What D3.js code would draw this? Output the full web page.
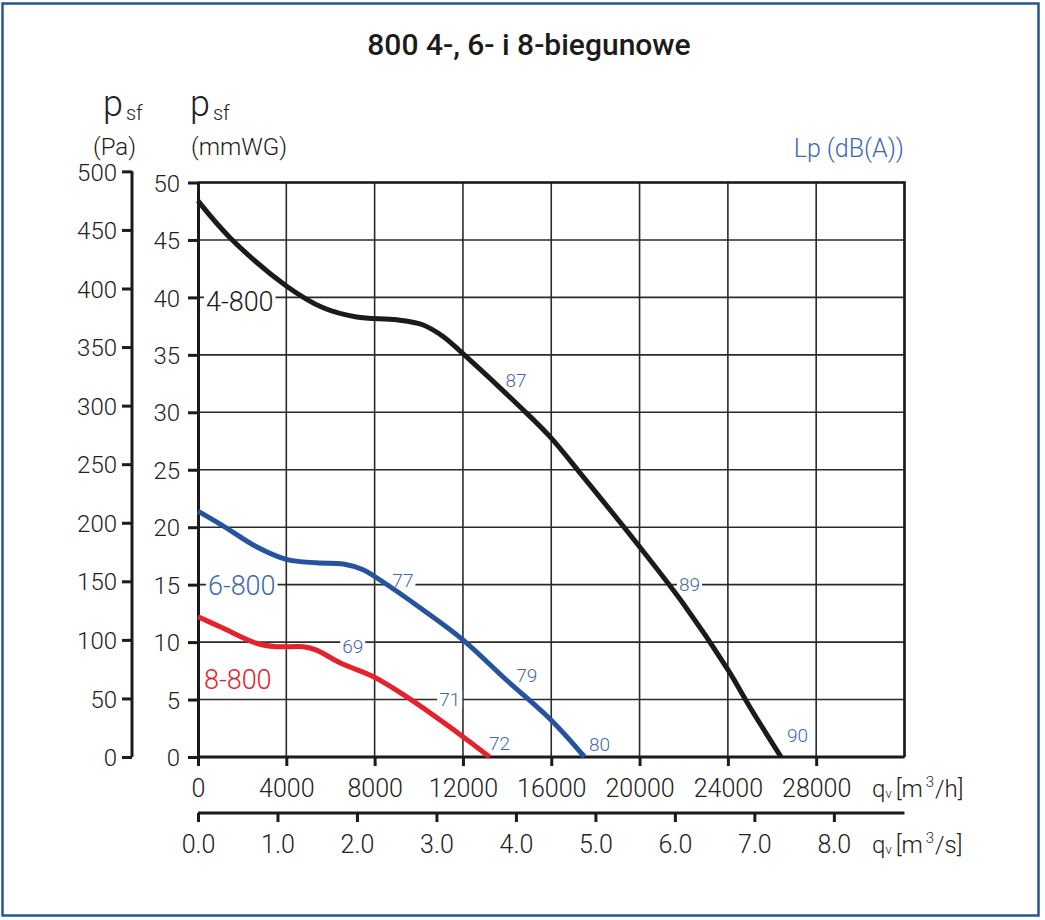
<!DOCTYPE html>
<html><head><meta charset="utf-8">
<script src="https://cdn.jsdelivr.net/npm/d3@7"></script>
<style>
body{margin:0;background:#fff;}
svg text{font-family:Roboto,"Open Sans",sans-serif;font-weight:300;}
</style></head>
<body><svg id="c" width="1045" height="920"></svg>
<script>
// ---- data ----
const titleText = "800 4-, 6- i 8-biegunowe";
const mmTicks = [0,5,10,15,20,25,30,35,40,45,50];
const paTicks = [0,50,100,150,200,250,300,350,400,450,500];
const qhTicks = [0,4000,8000,12000,16000,20000,24000,28000];
const qsTicks = [0,1,2,3,4,5,6,7,8];
const gridX = [0,4000,8000,12000,16000,20000,24000,28000,32000];

const q4 = [0,1450,4000,5670,7180,9000,10200,11100,12000,14570,15930,17440,20000,21960,24000,24980,26410];
const p4 = [48.4,45.2,41.0,39.1,38.3,38.05,37.6,36.6,35.1,30.5,27.9,24.4,18.3,13.4,7.6,4.4,0];
const q6 = [0,1150,2650,4000,5370,6580,7480,8090,10200,12000,13970,16000,17510];
const p6 = [21.4,20.1,18.3,17.2,16.9,16.8,16.3,15.6,12.8,10.2,6.7,3.2,0];
const q8 = [0,1150,2650,3560,4770,5370,6430,7930,9440,12000,13210];
const p8 = [12.2,11.2,9.9,9.6,9.6,9.3,8.2,7.0,5.25,1.77,0];

const seriesNames = ["4-800","6-800","8-800"];
const nameQ = [360,450,270];
const nameP = [39.6,14.9,6.7];

const lpText = ["87","89","90","77","79","80","69","71","72"];
const lpQ = [14400,22260,27150,9280,14890,18190,7010,11400,13660];
const lpP = [32.8,15.0,1.9,15.4,7.1,1.1,9.6,5.0,1.2];

// ---- drawing ----
const svg = d3.select("#c");
const blueBorder = "#25568f";
const labBlue = "#3d68b3";
const colors = ["#1b1b1b","#2553a0","#e3222b"];
const nameColors = ["#1b1b1b",labBlue,"#e3222b"];

svg.append("rect").attr("x",2.5).attr("y",3.5).attr("width",1036).attr("height",912)
  .attr("fill","#fff").attr("stroke",blueBorder).attr("stroke-width",2.5);

const x = d3.scaleLinear().domain([0,32000]).range([198,904.5]);
const y = d3.scaleLinear().domain([0,50]).range([757,182.5]);
const yPa = d3.scaleLinear().domain([0,50*9.81]).range([757,182.5]);
const xs = d3.scaleLinear().domain([0,32000/3600]).range([198,904.5]);

// title
svg.append("text").attr("x",529).attr("y",55).attr("text-anchor","middle")
  .attr("font-size",30).style("font-weight",500).attr("fill","#1b1b1b").text(titleText);

// grid
const g = svg.append("g");
g.selectAll("line.gx").data(gridX).join("line")
  .attr("x1",d=>x(d)).attr("x2",d=>x(d)).attr("y1",y(50)).attr("y2",y(0))
  .attr("stroke","#2a2a2a").attr("stroke-width",1.6);
g.selectAll("line.gy").data(mmTicks).join("line").attr("class","gy")
  .attr("x1",x(0)).attr("x2",x(32000)).attr("y1",d=>y(d)).attr("y2",d=>y(d))
  .attr("stroke","#2a2a2a").attr("stroke-width",1.6);
// frame top/right
svg.append("path").attr("d",`M${x(0)},${y(50)}H${x(32000)}V${y(0)}`)
  .attr("fill","none").attr("stroke","#1b1b1b").attr("stroke-width",2.6);

function styleAxis(sel, fs){
  sel.selectAll("path.domain").attr("stroke","#1b1b1b").attr("stroke-width",3);
  sel.selectAll(".tick line").attr("stroke","#1b1b1b").attr("stroke-width",3);
  sel.selectAll(".tick text").attr("font-size",fs).attr("fill","#222")
    .style("font-family","Roboto").style("font-weight",300);
}

// mmWG axis
const ay = svg.append("g").attr("transform",`translate(${x(0)},0)`)
  .call(d3.axisLeft(y).tickValues(mmTicks).tickSize(10).tickSizeOuter(0).tickPadding(8));
styleAxis(ay,24);
ay.selectAll(".tick text").attr("dy","0.36em");
// Pa axis
const ap = svg.append("g").attr("transform","translate(132,0)")
  .call(d3.axisLeft(yPa).tickValues(paTicks).tickSize(10).tickSizeOuter(0).tickPadding(5));
styleAxis(ap,24);
ap.selectAll(".tick text").attr("dy","0.36em");
ap.select("path.domain").attr("d",`M0,${yPa(500)}V${yPa(0)}`);

// m3/h axis
const ax = svg.append("g").attr("transform",`translate(0,${y(0)})`)
  .call(d3.axisBottom(x).tickValues(qhTicks).tickSize(9).tickSizeOuter(0).tickFormat(d3.format("d")));
styleAxis(ax,25);
ax.selectAll(".tick text").attr("y",40).attr("dy",0);
ax.select("path.domain").attr("d",`M${x(0)},0H${x(32000)}`);

// m3/s axis
const as = svg.append("g").attr("transform","translate(0,813)")
  .call(d3.axisBottom(xs).tickValues(qsTicks).tickSize(9).tickSizeOuter(0).tickFormat(d3.format(".1f")));
styleAxis(as,25);
as.selectAll(".tick text").attr("y",40).attr("dy",0);
as.select("path.domain").attr("d",`M${x(0)},0H${x(32000)}`);

// unit labels
function unit(xp, yp, txt){
  const t = svg.append("text").attr("x",xp).attr("y",yp).attr("fill","#222").attr("font-size",24);
  t.append("tspan").text("q");
  t.append("tspan").attr("font-size",13).attr("dy",1).text("v");
  t.append("tspan").attr("dy",-1).attr("dx",4).text("[m");
  t.append("tspan").attr("font-size",15).attr("dy",-10).attr("dx",3).text("3");
  t.append("tspan").attr("dy",10).attr("dx",1).text(txt);
}
unit(872,797,"/h]");
unit(872,853,"/s]");

// header labels
function pHeader(xp){
  const t = svg.append("text").attr("x",xp).attr("y",116).attr("fill","#222").attr("font-size",36);
  t.append("tspan").text("p");
  t.append("tspan").attr("font-size",20).attr("dx",3).attr("dy",4).text("sf");
}
pHeader(103); pHeader(190);
svg.append("text").attr("x",93).attr("y",155).attr("font-size",24).attr("fill","#222").text("(Pa)");
svg.append("text").attr("x",191).attr("y",155).attr("font-size",24).attr("fill","#222").text("(mmWG)");
svg.append("text").attr("x",904).attr("y",157).attr("text-anchor","end").attr("font-size",25)
  .attr("fill",labBlue).text("Lp (dB(A))");

// label layers: backgrounds below curves, texts above
const bgLayer = svg.append("g");
const cg = svg.append("g");
const txtLayer = svg.append("g");

const line = d3.line().x(d=>x(d[0])).y(d=>y(d[1])).curve(d3.curveCatmullRom.alpha(0.5));
const curves = [d3.zip(q4,p4), d3.zip(q6,p6), d3.zip(q8,p8)];
curves.forEach((c,i)=>{
  cg.append("path").datum(c).attr("d",line).attr("fill","none")
    .attr("stroke",colors[i]).attr("stroke-width",5).attr("stroke-linecap","butt");
});

function bgText(tx, ty, txt, fs, fill, anchor){
  const t = txtLayer.append("text").attr("x",tx).attr("y",ty).attr("dy","0.35em")
    .attr("text-anchor",anchor).attr("font-size",fs).attr("fill",fill).text(txt);
  const b = t.node().getBBox();
  bgLayer.append("rect").attr("fill","#fff")
    .attr("x",b.x-2).attr("y",b.y+2).attr("width",b.width+4).attr("height",b.height-4);
}
seriesNames.forEach((n,i)=>bgText(x(nameQ[i]), y(nameP[i]), n, 27, nameColors[i], "start"));
lpText.forEach((n,i)=>bgText(x(lpQ[i]), y(lpP[i]), n, 19, labBlue, "middle"));
</script></body></html>
